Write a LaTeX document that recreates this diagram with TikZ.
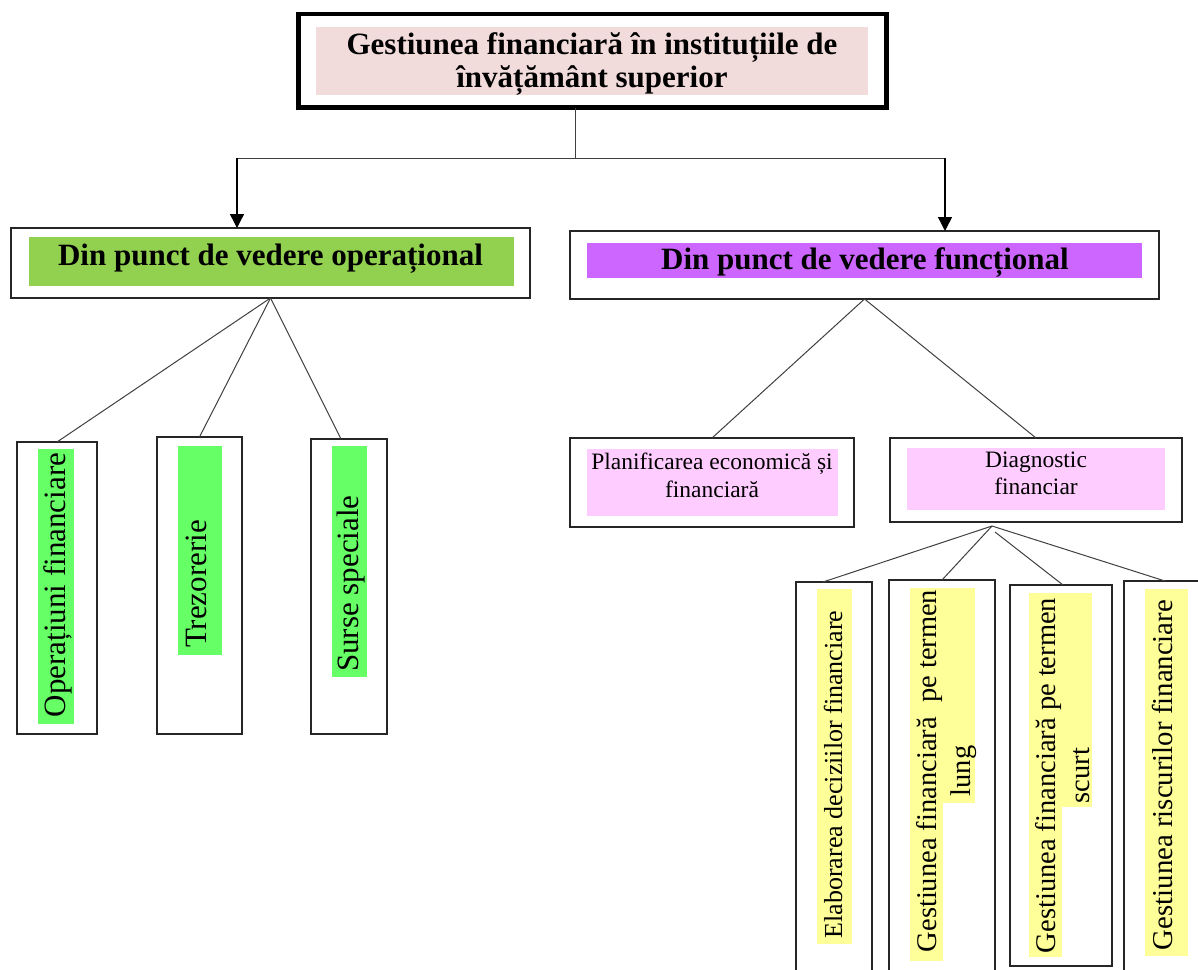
\documentclass[tikz,border=0pt]{standalone}
\usepackage{fontspec}
\setmainfont{Liberation Serif}
\usetikzlibrary{arrows.meta,calc}
\definecolor{titlepink}{RGB}{242,220,219}
\definecolor{opgreen}{RGB}{146,208,80}
\definecolor{fnpurple}{RGB}{204,102,255}
\definecolor{lpink}{RGB}{255,204,255}
\definecolor{bgreen}{RGB}{102,255,102}
\definecolor{lyellow}{RGB}{255,255,153}
\definecolor{linegray}{RGB}{64,64,64}
\newcommand\mkbox[6][]{\node[boxst,#1,minimum width={#5-#3},minimum height={#6-#4}] (#2) at ({(#3+#5)/2},{(#4+#6)/2}) {};}
\newcommand\hlrect[5]{\fill[#1] (#2,#3) rectangle (#4,#5);}
\begin{document}
\begin{tikzpicture}[x=1pt,y=-1pt,
 boxst/.style={draw=black!85,line width=1.4pt,inner sep=0pt,outer sep=0pt,rectangle},
 conn/.style={draw=linegray,line width=1pt},
 arr/.style={draw=black,line width=1.4pt,-{Triangle[length=14pt,width=14pt]}},
 head/.style={inner sep=0pt,align=center,font=\fontsize{31}{33}\selectfont\bfseries},
 vtxt/.style={inner sep=0pt,rotate=90,font=\fontsize{31}{36}\selectfont},
 ytxt/.style={inner sep=0pt,rotate=90,align=center,font=\fontsize{28.5}{34}\selectfont},
 htxt/.style={inner sep=0pt,align=center,font=\fontsize{23.5}{27.5}\selectfont}]
\useasboundingbox (0,0) rectangle (1198,969);
\clip (0,0) rectangle (1198,969);
\fill[white] (0,0) rectangle (1198,969);
% highlights
\hlrect{titlepink}{316}{27}{868}{95}
\hlrect{opgreen}{29}{237}{514}{286}
\hlrect{fnpurple}{587}{243}{1142}{278}
\hlrect{lpink}{587}{449}{838}{516}
\hlrect{lpink}{907}{448}{1165}{510}
\hlrect{bgreen}{38}{449}{74}{724}
\hlrect{bgreen}{178}{446}{222}{655}
\hlrect{bgreen}{332}{446}{367}{677}
\hlrect{lyellow}{817}{589}{852}{944}
\hlrect{lyellow}{910}{588}{975}{803}
\hlrect{lyellow}{910}{588}{943}{961}
\hlrect{lyellow}{1029}{593}{1092}{807}
\hlrect{lyellow}{1029}{593}{1062}{957}
\hlrect{lyellow}{1145}{589}{1188}{956}
% boxes
\mkbox[line width=4.5pt,draw=black]{title}{298.5}{14}{886.5}{107.5}
\mkbox{opbox}{11}{228}{530}{298}
\mkbox{fnbox}{570}{231}{1159}{299}
\mkbox{op1}{17}{442}{97}{734}
\mkbox{op2}{157}{437}{242}{734}
\mkbox{op3}{311}{439}{387}{734}
\mkbox{plan}{570}{438}{854}{527}
\mkbox{diag}{890}{438}{1182}{522}
\mkbox{e1}{796}{582}{872}{990}
\mkbox{e2}{889}{580}{995}{990}
\mkbox{e3}{1010}{585}{1112}{966}
\mkbox{e4}{1124}{581}{1230}{990}
% texts
\node[head] (titlet) at (592,64.3) {Gestiunea financiară în instituțiile de\\învățământ superior};
\node[head,anchor=base] (opt) at (270.5,265) {Din punct de vedere operațional};
\node[head,anchor=base] (fnt) at (865,269) {Din punct de vedere funcțional};
\node[htxt] (plant) at (712,475.5) {Planificarea economică și\\financiară};
\node[htxt] (diagt) at (1036,473.5) {Diagnostic\\financiar};
\node[vtxt] (op1t) at (57.8,585) {Operațiuni financiare};
\node[vtxt] (op2t) at (196.5,584) {Trezorerie};
\node[vtxt] (op3t) at (350.7,583.5) {Surse speciale};
\node[vtxt,font=\fontsize{26}{30}\selectfont] (e1t) at (833,774.5) {Elaborarea deciziilor financiare};
\node[ytxt] (e2t) at (946.6,771) {Gestiunea financiară\ \ pe termen\\lung};
\node[ytxt] (e3t) at (1062.5,775.5) {Gestiunea financiară pe termen\\scurt};
\node[vtxt,font=\fontsize{28.8}{34}\selectfont] (e4t) at (1162,775) {Gestiunea riscurilor financiare};
% connectors
\coordinate (tj) at (575,158);
\coordinate (lj) at (237,158);
\coordinate (rj) at (945,158);
\coordinate (dj) at (992,526);
\coordinate (dj2) at (995,532);
\draw[conn] (title.south -| tj) -- (tj);
\draw[conn] (lj) -- (rj);
\draw[arr] (lj) -- (lj |- opbox.north);
\draw[arr] (rj) -- (rj |- fnbox.north);
\draw[conn] (opbox.south) -- (op1.north);
\draw[conn] (opbox.south) -- (op2.north);
\draw[conn] (opbox.south) -- ($(op3.north)+(-8,0)$);
\draw[conn] (fnbox.south) -- (plan.north);
\draw[conn] (fnbox.south) -- (diag.north);
\draw[conn] (dj) -- ($(e1.north)+(-11,0)$);
\draw[conn] (dj) -- (e2.north);
\draw[conn] (dj2) -- ($(e3.north)+(2,0)$);
\draw[conn] (dj) -- ($(e4.north)+(-12,0)$);
\end{tikzpicture}
\end{document}
